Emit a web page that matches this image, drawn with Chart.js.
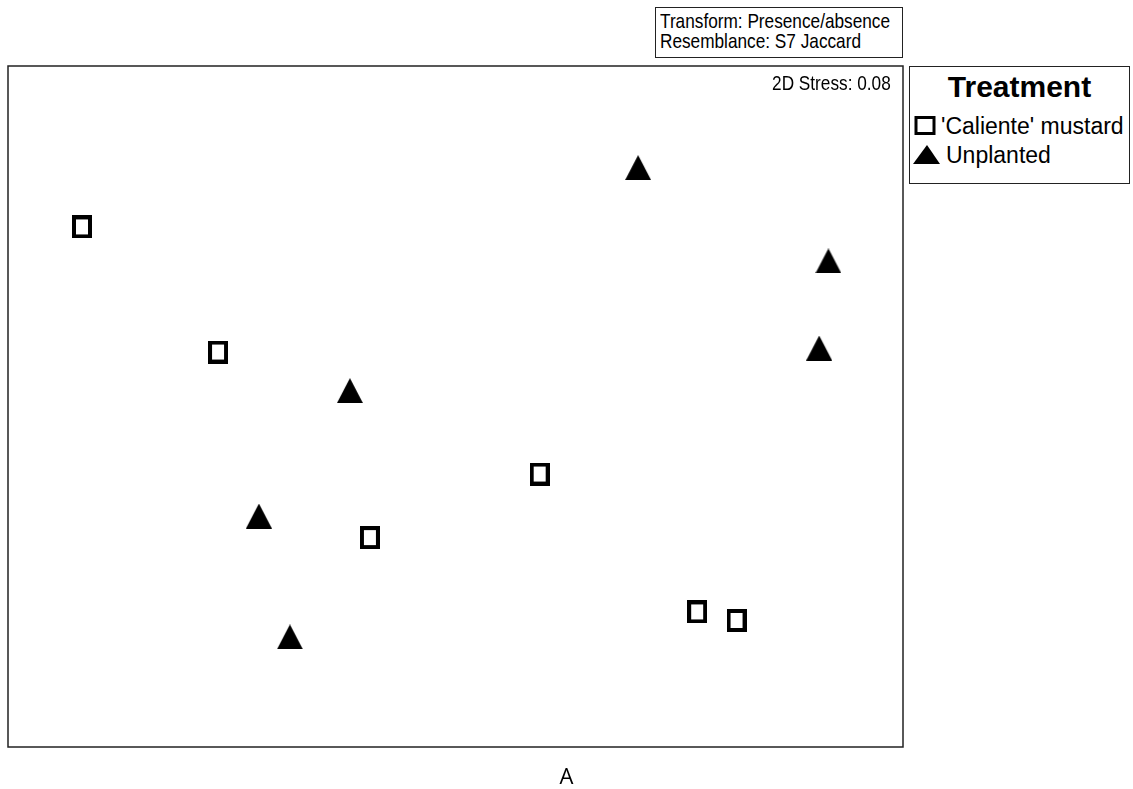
<!DOCTYPE html>
<html>
<head>
<meta charset="utf-8">
<script src="https://cdn.jsdelivr.net/npm/chart.js@4/dist/chart.umd.min.js"></script>
<style>
  html, body { margin: 0; padding: 0; background: #fff; }
  #wrap { position: relative; width: 1133px; height: 789px; overflow: hidden; }
  #chart { position: absolute; left: 0; top: 0; }
  .txt { position: absolute; white-space: nowrap; font-family: "Liberation Sans", Arial, sans-serif; color: #000; line-height: 1; }
  .narrow { font-size: 21px; transform: scaleX(0.82); }
  .box { position: absolute; border: 1.5px solid #222; box-sizing: border-box; background: #fff; }
</style>
</head>
<body>
<div id="wrap">
  <canvas id="chart" width="1133" height="789"></canvas>

  <div class="box" style="left:655px; top:7px; width:248px; height:51px;"></div>
  <div class="txt narrow" style="left:660px; top:10px; transform-origin:left top;">Transform: Presence/absence</div>
  <div class="txt narrow" style="left:660px; top:30px; transform-origin:left top;">Resemblance: S7 Jaccard</div>

  <div class="txt narrow" style="right:242px; top:71.5px; transform-origin:right top;">2D Stress: 0.08</div>

  <div class="box" style="left:909px; top:66px; width:221px; height:118px;"></div>
  <div class="txt" style="left:909px; width:221px; top:72px; text-align:center; font-size:30px; font-weight:bold;">Treatment</div>
  <div class="txt" style="left:941px; top:115px; font-size:23px;">'Caliente' mustard</div>
  <div class="txt" style="left:946px; top:144px; font-size:23px;">Unplanted</div>
  <svg style="position:absolute; left:914px; top:116px;" width="24" height="20">
    <rect x="2" y="1.5" width="18" height="16" fill="#fff" stroke="#000" stroke-width="3"/>
  </svg>
  <svg style="position:absolute; left:913px; top:145px;" width="28" height="20">
    <polygon points="14,0 27,19 0,19" fill="#000"/>
  </svg>

  <div class="txt" style="left:0; width:1133px; top:764px; text-align:center; font-family:'Open Sans', sans-serif; font-size:22px;">A</div>
</div>

<script>
// MDS ordination scores
const calienteX = [-1.252, -0.796, 0.282, -0.287, 0.810, 0.942];
const calienteY = [0.633, 0.192, -0.238, -0.462, -0.724, -0.754];
const unplantedX = [0.612, 1.250, 1.219, -0.354, -0.659, -0.555];
const unplantedY = [0.842, 0.513, 0.206, 0.056, -0.386, -0.812];
const seriesNames = ["'Caliente' mustard", "Unplanted"];

// hollow square marker
function squareMarker() {
    const c = document.createElement('canvas');
    c.width = 20; c.height = 23;
    const g = c.getContext('2d');
    g.fillStyle = '#000';
    g.fillRect(0, 0, 20, 23);
    g.fillStyle = '#fff';
    g.fillRect(4, 4, 12, 15);
    return c;
}

// filled triangle marker
function triangleMarker() {
    const c = document.createElement('canvas');
    c.width = 26; c.height = 25;
    const g = c.getContext('2d');
    g.fillStyle = '#000';
    g.beginPath();
    g.moveTo(13, 0);
    g.lineTo(26, 25);
    g.lineTo(0, 25);
    g.closePath();
    g.fill();
    return c;
}

const toPoints = (xs, ys) => xs.map((x, i) => ({ x: x, y: ys[i] }));

const frame = {
    id: 'frame',
    afterDraw(chart) {
        const a = chart.chartArea;
        const ctx = chart.ctx;
        ctx.save();
        ctx.strokeStyle = '#222';
        ctx.lineWidth = 1.5;
        ctx.strokeRect(a.left, a.top, a.right - a.left, a.bottom - a.top);
        ctx.restore();
    }
};

new Chart(document.getElementById('chart'), {
    type: 'scatter',
    data: {
        datasets: [
            {
                label: seriesNames[0],
                data: toPoints(calienteX, calienteY),
                pointStyle: squareMarker()
            },
            {
                label: seriesNames[1],
                data: toPoints(unplantedX, unplantedY),
                pointStyle: triangleMarker()
            }
        ]
    },
    options: {
        responsive: false,
        animation: false,
        layout: { padding: { left: 8, top: 66, right: 230, bottom: 42 } },
        plugins: {
            legend: { display: false },
            tooltip: { enabled: false }
        },
        scales: {
            x: { type: 'linear', min: -1.5, max: 1.5, display: false },
            y: { type: 'linear', min: -1.2, max: 1.2, display: false }
        }
    },
    plugins: [frame]
});
</script>
</body>
</html>
